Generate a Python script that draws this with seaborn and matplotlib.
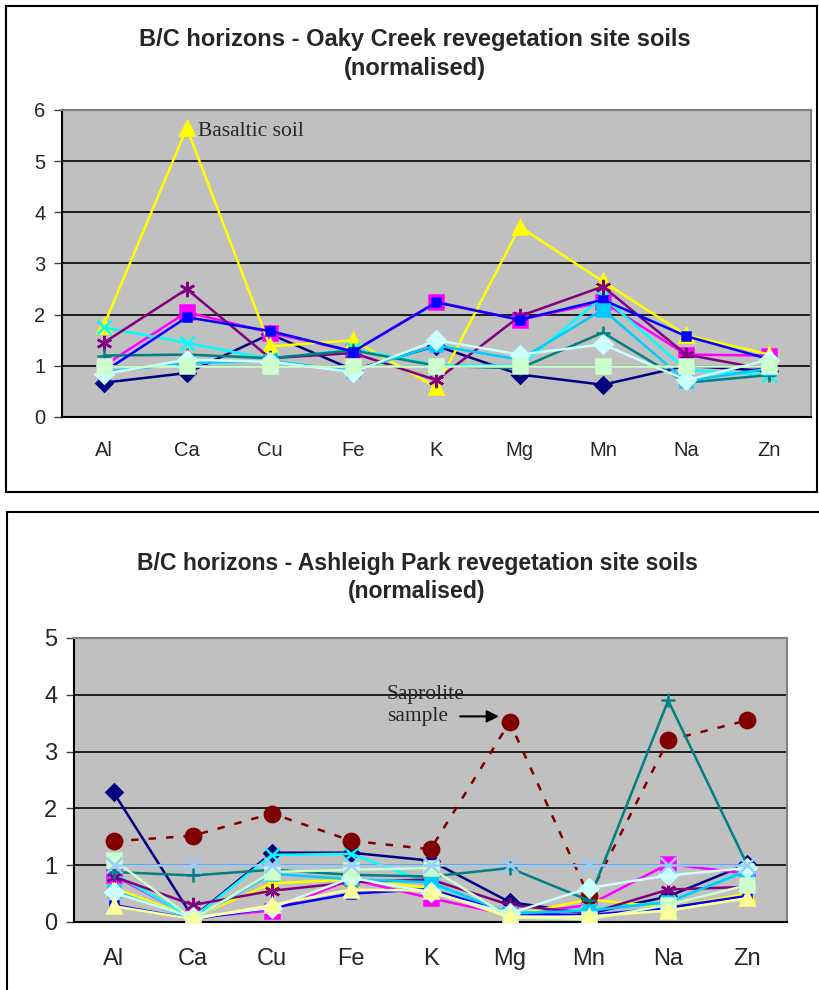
import numpy as np
import pandas as pd
import matplotlib
matplotlib.use("Agg")
import matplotlib.pyplot as plt
from matplotlib.patches import Rectangle
import seaborn as sns

sns.set_style("white")
plt.rcParams["font.family"] = ["Liberation Sans", "DejaVu Sans"]

# elementi sull'asse x
elements = ["Al", "Ca", "Cu", "Fe", "K", "Mg", "Mn", "Na", "Zn"]

# Oaky Creek (valori normalizzati)
oaky_navy = [0.67, 0.86, 1.62, 0.92, 1.39, 0.83, 0.63, 1.0, 0.9]
oaky_magenta = [1.0, 2.05, 1.65, 1.28, 2.25, 1.9, 2.25, 1.22, 1.2]
oaky_yellow = [1.78, 5.65, 1.38, 1.5, 0.58, 3.72, 2.65, 1.6, 1.22]
oaky_cyan = [1.75, 1.45, 1.13, 1.32, 1.02, 1.0, 2.35, 0.92, 0.82]
oaky_purple = [1.45, 2.5, 1.15, 1.25, 0.72, 1.97, 2.55, 1.22, 0.92]
oaky_teal = [1.2, 1.22, 1.15, 1.3, 1.0, 0.95, 1.65, 0.67, 0.82]
oaky_blue = [0.88, 1.95, 1.68, 1.28, 2.24, 1.9, 2.29, 1.58, 1.13]
oaky_sky = [0.88, 1.05, 1.1, 0.9, 1.4, 1.12, 2.1, 0.7, 0.95]
oaky_pale_cyan = [0.84, 1.12, 1.08, 0.88, 1.5, 1.22, 1.42, 0.72, 1.12]
oaky_green = [1.0, 1.0, 1.0, 1.0, 1.0, 1.0, 1.0, 1.0, 1.0]

# Ashleigh Park
ash_navy = [2.28, 0.08, 1.22, 1.22, 1.08, 0.35, 0.15, 0.45, 1.02]
ash_magenta = [0.82, 0.08, 0.2, 0.75, 0.42, 0.12, 0.3, 1.02, 0.85]
ash_yellow = [0.6, 0.08, 0.68, 0.75, 0.6, 0.1, 0.4, 0.25, 0.5]
ash_cyan = [0.85, 0.07, 1.18, 1.2, 0.68, 0.15, 0.22, 0.35, 0.92]
ash_purple = [0.8, 0.3, 0.55, 0.7, 0.75, 0.3, 0.15, 0.57, 0.62]
ash_darkred = [1.42, 1.52, 1.91, 1.43, 1.28, 3.52, 0.45, 3.2, 3.55]
ash_teal = [0.88, 0.82, 0.92, 0.83, 0.8, 0.95, 0.38, 3.9, 1.0]
ash_blue = [0.3, 0.05, 0.25, 0.5, 0.58, 0.15, 0.12, 0.25, 0.46]
ash_sky = [0.55, 0.05, 0.85, 0.75, 0.7, 0.15, 0.2, 0.35, 0.9]
ash_pale_cyan = [0.52, 0.08, 0.25, 0.78, 0.52, 0.15, 0.6, 0.82, 0.95]
ash_green = [1.1, 0.05, 0.88, 0.92, 0.95, 0.08, 0.05, 0.3, 0.65]
ash_lyellow = [0.28, 0.05, 0.3, 0.57, 0.55, 0.08, 0.1, 0.2, 0.42]
ash_paleblue = [1.0, 1.0, 1.0, 1.0, 1.0, 1.0, 1.0, 1.0, 1.0]

STAR = (6, 2, 0)

# (valori, colore, marker, dimensione, tratteggio)
oaky_series = [
    (oaky_navy, "#000080", "D", 8, "-"),
    (oaky_magenta, "#FF00FF", "s", 10, "-"),
    (oaky_yellow, "#FFFF00", "^", 10, "-"),
    (oaky_cyan, "#00FFFF", "x", 10, "-"),
    (oaky_purple, "#800080", STAR, 11, "-"),
    (oaky_teal, "#008080", "+", 10, "-"),
    (oaky_blue, "#0000FF", "s", 6, "-"),
    (oaky_sky, "#00CCFF", "s", 9, "-"),
    (oaky_pale_cyan, "#CCFFFF", "D", 9, "-"),
    (oaky_green, "#CCFFCC", "s", 10, "-"),
]

ash_series = [
    (ash_navy, "#000080", "D", 8, "-"),
    (ash_magenta, "#FF00FF", "s", 10, "-"),
    (ash_yellow, "#FFFF00", "^", 10, "-"),
    (ash_cyan, "#00FFFF", "x", 10, "-"),
    (ash_purple, "#800080", STAR, 11, "-"),
    (ash_darkred, "#800000", "o", 11, (0, (3, 4))),
    (ash_teal, "#008080", "+", 10, "-"),
    (ash_blue, "#0000FF", "s", 6, "-"),
    (ash_sky, "#00CCFF", "s", 9, "-"),
    (ash_pale_cyan, "#CCFFFF", "D", 9, "-"),
    (ash_green, "#CCFFCC", "s", 10, "-"),
    (ash_lyellow, "#FFFF99", "^", 10, "-"),
    (ash_paleblue, "#99CCFF", "x", 11, "-"),
]


def draw_chart(ax, series, ymax, title, fs, xpad, tfs, tpad, tx):
    ax.set_facecolor("#C0C0C0")
    for vals, col, mk, ms, ls in series:
        df = pd.DataFrame({"element": elements, "value": vals})
        sns.lineplot(data=df, x="element", y="value", sort=False, ax=ax,
                     color=col, marker=mk, markersize=ms, linewidth=1.8,
                     linestyle=ls, markeredgecolor=col, markeredgewidth=1.8,
                     zorder=3)
    ax.set_xlim(-0.5, len(elements) - 0.5)
    ax.set_ylim(0, ymax)
    ax.set_xticks(range(len(elements)))
    ax.set_xticklabels(elements, fontsize=fs)
    ax.set_yticks(range(ymax + 1))
    ax.set_yticklabels([str(v) for v in range(ymax + 1)], fontsize=fs)
    ax.set_xticks(np.arange(-0.5, len(elements)), minor=True)
    ax.tick_params(axis="x", which="major", length=0, pad=xpad)
    ax.tick_params(axis="x", which="minor", length=6, width=1, color="#404040",
                   direction="out")
    ax.tick_params(axis="y", length=6, width=1, color="#404040", pad=6,
                   left=True)
    ax.yaxis.grid(True, color="black", linewidth=1.2)
    ax.set_axisbelow(True)
    ax.set_xlabel("")
    ax.set_ylabel("")
    for side in ["top", "right"]:
        ax.spines[side].set_color("#808080")
        ax.spines[side].set_linewidth(1.5)
    for side in ["left", "bottom"]:
        ax.spines[side].set_color("black")
        ax.spines[side].set_linewidth(1.5)
    ax.set_title(title, fontsize=tfs, fontweight="bold", pad=tpad,
                 linespacing=1.3, x=tx)


fig = plt.figure(figsize=(8.19, 9.90), dpi=100)

# cornici dei due grafici
fig.patches.append(Rectangle((6 / 819, 1 - 492 / 990), 811 / 819, 486 / 990,
                             transform=fig.transFigure, fill=False,
                             edgecolor="black", linewidth=1.5))
fig.patches.append(Rectangle((7 / 819, -0.01), 815 / 819, 1 - 512 / 990 + 0.01,
                             transform=fig.transFigure, fill=False,
                             edgecolor="black", linewidth=1.5))

ax1 = fig.add_axes([62 / 819, 1 - 417 / 990, 749 / 819, 307 / 990])
draw_chart(ax1, oaky_series, 6,
           "B/C horizons - Oaky Creek revegetation site soils\n(normalised)",
           14.5, 17, 17, 25.5, 0.471)
ax1.text(1.14, 5.58, "Basaltic soil", family="Liberation Serif", fontsize=15.5,
         ha="left", va="center")

ax2 = fig.add_axes([74 / 819, 1 - 922 / 990, 713 / 819, 284 / 990])
draw_chart(ax2, ash_series, 5,
           "B/C horizons - Ashleigh Park revegetation site soils\n(normalised)",
           17, 19, 16.6, 28.5, 0.481)
ax2.text(3.45, 3.81, "Saprolite\nsample", family="Liberation Serif",
         fontsize=15.5, ha="left", va="center", linespacing=1.25)
ax2.annotate("", xy=(4.9, 3.62), xytext=(4.34, 3.62),
             arrowprops=dict(arrowstyle="-|>", color="black", lw=1.5,
                             mutation_scale=18))

fig.savefig("out.png", dpi=100)
